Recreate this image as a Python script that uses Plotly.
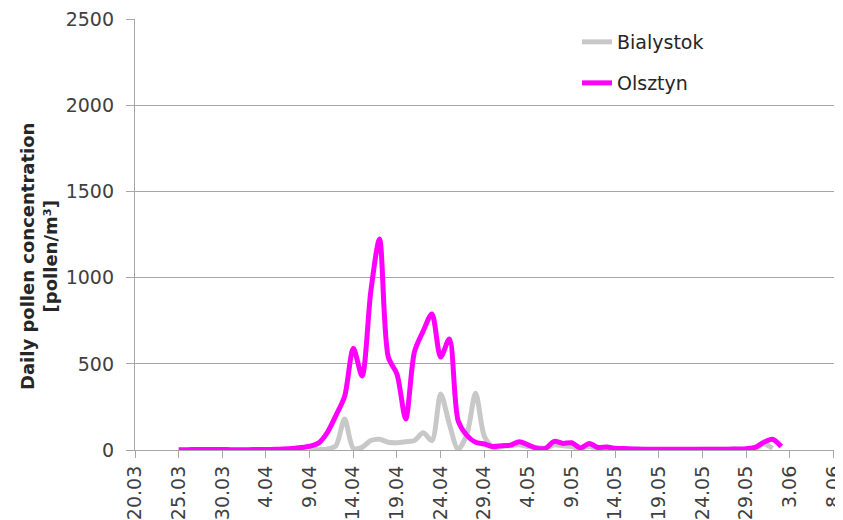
import plotly.graph_objects as go
import pandas as pd

# ---- data ----
olsztyn_start = "2019-03-25"
olsztyn_values = [
    2, 2, 3, 3, 3, 3, 2,                      # 25.03 - 31.03
    2, 2, 3, 3, 4, 6, 9, 14, 22, 40,          # 1.04 - 10.04
    100, 200, 310, 590, 430, 920, 1225, 540, 440, 180,   # 11.04 - 20.04
    570, 690, 790, 540, 645, 170, 85, 45, 35, 20,        # 21.04 - 30.04
    25, 28, 48, 30, 10, 10, 50, 38, 42, 12,   # 1.05 - 10.05
    38, 15, 18, 10, 8, 6, 5, 5, 4, 4,         # 11.05 - 20.05
    4, 4, 4, 4, 5, 5, 5, 6, 8, 15, 45,        # 21.05 - 31.05
    62, 20,                                   # 1.06 - 2.06
]

bialystok_start = "2019-04-09"
bialystok_values = [
    0, 2, 5, 25, 180, 10, 15, 55, 62, 45, 42, 48,      # 9.04 - 20.04
    55, 100, 55, 325, 150, 5, 90, 330, 80, 15,          # 21.04 - 30.04
    20, 25, 30, 20, 15, 10, 30, 25, 20, 10,             # 1.05 - 10.05
    20, 10, 8, 5, 5, 4, 4, 3, 3, 3,                     # 11.05 - 20.05
    3, 3, 3, 4, 4, 4, 5, 5, 6, 10, 35,                  # 21.05 - 31.05
    10,                                                 # 1.06
]

series_names = ["Bialystok", "Olsztyn"]
y_title = "Daily pollen concentration<br>[pollen/m³]"

olsztyn_dates = pd.date_range(olsztyn_start, periods=len(olsztyn_values), freq="D")
bialystok_dates = pd.date_range(bialystok_start, periods=len(bialystok_values), freq="D")

FONT = "DejaVu Sans"
GRID = "#a6a6a6"

fig = go.Figure()
fig.add_trace(go.Scatter(
    x=bialystok_dates, y=bialystok_values, name=series_names[0],
    mode="lines", line=dict(color="#c8c8c8", width=5, shape="spline", smoothing=0.8),
    legend="legend", showlegend=True,
))
fig.add_trace(go.Scatter(
    x=olsztyn_dates, y=olsztyn_values, name=series_names[1],
    mode="lines", line=dict(color="#ff00ff", width=5, shape="spline", smoothing=0.8),
    legend="legend2", showlegend=True,
))

# page is 843x520 but the html body has an 8px default margin
OFF = 8
PAGE_W, PAGE_H = 843, 520
PL, PT, PR_EDGE, PB_EDGE = 135, 19, 834, 450     # plot area in page pixels
W, H = PAGE_W - OFF, PAGE_H - OFF
L, T = PL - OFF, PT - OFF
PW, PH = PR_EDGE - PL, PB_EDGE - PT
R, B = W - L - PW, H - T - PH


def px_x(x):
    return (x - PL) / PW


def px_y(y):
    return (PB_EDGE - y) / PH


fig.update_layout(
    width=W, height=H,
    margin=dict(l=L, r=R, t=T, b=B, autoexpand=False),
    showlegend=True,
    paper_bgcolor="white", plot_bgcolor="white",
    font=dict(family=FONT, size=19, color="#404040"),
    legend=dict(x=px_x(577), y=px_y(42),
                xanchor="left", yanchor="middle", bgcolor="rgba(0,0,0,0)",
                font=dict(family=FONT, size=19, color="#262626")),
    legend2=dict(x=px_x(577), y=px_y(83),
                 xanchor="left", yanchor="middle", bgcolor="rgba(0,0,0,0)",
                 font=dict(family=FONT, size=19, color="#262626")),
    xaxis=dict(
        type="date", range=["2019-03-20", "2019-06-08 01:00"], automargin=False,
        tick0="2019-03-20", dtick=5 * 86400000, tickformat="%-d.%m",
        tickangle=-90, ticks="outside", ticklen=7, tickcolor=GRID, tickwidth=1.3,
        showline=True, linecolor=GRID, linewidth=1.3, showgrid=False, zeroline=False,
        ticklabeloverflow="allow",
        tickfont=dict(family=FONT, size=19, color="#404040"),
    ),
    yaxis=dict(
        range=[0, 2502], dtick=500, tick0=0, automargin=False,
        ticks="outside", ticklen=8, tickcolor=GRID, tickwidth=1.3,
        showline=True, linecolor=GRID, linewidth=1.3,
        showgrid=True, gridcolor=GRID, gridwidth=1.3, zeroline=False,
        ticklabelstandoff=8, ticklabeloverflow="allow",
        tickfont=dict(family=FONT, size=19, color="#404040"),
    ),
    annotations=[dict(
        text=y_title, textangle=-90, showarrow=False,
        xref="paper", yref="paper",
        x=px_x(39), y=px_y(257),
        xanchor="center", yanchor="middle",
        font=dict(family=FONT, size=18, color="#262626", weight="bold"),
    )],
)

fig.write_html("out.html")
